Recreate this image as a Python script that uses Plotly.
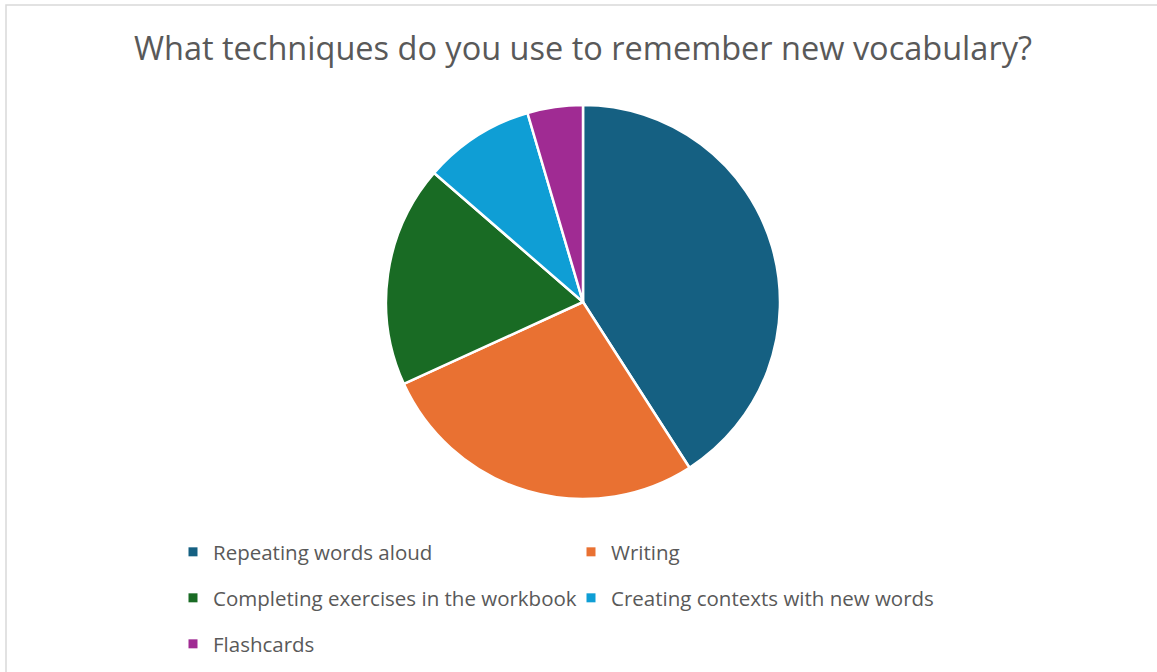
import plotly.graph_objects as go

labels = ["Repeating words aloud", "Writing", "Completing exercises in the workbook",
          "Creating contexts with new words", "Flashcards"]
values = [9, 6, 4, 2, 1]
colors = ["#156082", "#E97132", "#196B24", "#0F9ED5", "#A02B93"]
legend_rows = ["legend", "legend", "legend2", "legend2", "legend3"]

W, H = 1157, 672
cx, cy, r = 583, 302, 197
TXT = "#595959"
FONT = "Open Sans"

fig = go.Figure()
fig.add_trace(go.Pie(
    labels=labels, values=values, sort=False, direction="clockwise", rotation=0,
    marker=dict(colors=colors, line=dict(color="white", width=2.5)),
    textinfo="none", hoverinfo="label+value+percent", showlegend=False,
    domain=dict(x=[(cx - r) / W, (cx + r) / W], y=[(H - cy - r) / H, (H - cy + r) / H]),
))
for lab, col, lg in zip(labels, colors, legend_rows):
    fig.add_trace(go.Scatter(
        x=[None], y=[None], mode="markers", name=lab, legend=lg,
        marker=dict(symbol="square", size=9, color=col), showlegend=True,
    ))

row_y = [552, 598, 644]
leg_common = dict(orientation="h", xanchor="left", yanchor="middle", x=(213 - 40) / W,
                  font=dict(family=FONT, size=20.5, color=TXT), bgcolor="rgba(0,0,0,0)",
                  entrywidth=353, entrywidthmode="pixels", itemclick=False, itemdoubleclick=False)
fig.update_layout(
    width=W, height=H, margin=dict(l=0, r=0, t=0, b=0),
    paper_bgcolor="white", plot_bgcolor="white",
    title=dict(text="What techniques do you use to remember new vocabulary?",
               x=583 / W, xanchor="center", y=1 - 49 / H, yanchor="middle",
               font=dict(family=FONT, size=32.5, color=TXT)),
    xaxis=dict(visible=False), yaxis=dict(visible=False),
    legend=dict(y=1 - row_y[0] / H, **leg_common),
    legend2=dict(y=1 - row_y[1] / H, **leg_common),
    legend3=dict(y=1 - row_y[2] / H, **leg_common),
    shapes=[dict(type="rect", xref="paper", yref="paper", x0=6 / W, x1=1.01,
                 y0=-0.01, y1=1 - 5 / H, line=dict(color="#D9D9D9", width=1.5),
                 fillcolor="rgba(0,0,0,0)", layer="below")],
)
fig.write_html("out.html")
